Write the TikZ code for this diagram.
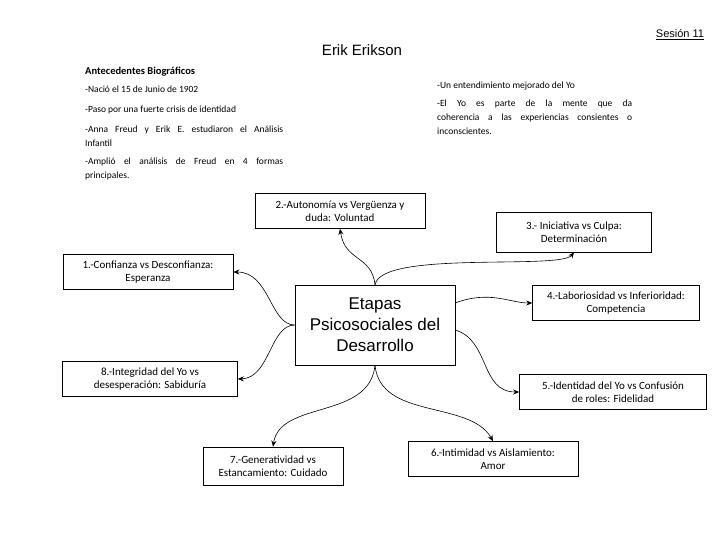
\documentclass[tikz,border=0pt]{standalone}
\usepackage{fontspec}
\setmainfont{Carlito}
\newfontfamily\arialf{Liberation Sans}
\usetikzlibrary{arrows.meta}
\begin{document}
\begin{tikzpicture}[x=1pt,y=-1pt,
 box/.style={draw,line width=0.6pt,align=center,font=\fontsize{11}{13}\selectfont,inner sep=0pt},
 conn/.style={line width=0.6pt,-{Stealth[length=6pt,width=5pt]}}]
\useasboundingbox[fill=white] (0,0) rectangle (728,546);
\node[font=\arialf\fontsize{11}{13}\selectfont] (ses) at (680,35) {\underline{Sesión 11}};
\node[font=\arialf\fontsize{15}{18}\selectfont] (tit) at (362,50) {Erik Erikson};
\node[box,minimum width=160,minimum height=80,font=\arialf\fontsize{17}{21}\selectfont] (c) at (375,325) {Etapas\\Psicosociales del\\Desarrollo};
\node[box,minimum width=170,minimum height=35] (b2) at (340,211) {2.-Autonomía vs Vergüenza y\\duda: Voluntad};
\node[box,minimum width=155,minimum height=40] (b3) at (574,232) {3.- Iniciativa vs Culpa:\\Determinación};
\node[box,minimum width=170,minimum height=35] (b1) at (148,272) {1.-Confianza vs Desconfianza:\\Esperanza};
\node[box,minimum width=167,minimum height=35] (b4) at (616,303) {4.-Laboriosidad vs Inferioridad:\\Competencia};
\node[box,minimum width=175,minimum height=35] (b8) at (150,379) {8.-Integridad del Yo vs\\desesperación: Sabiduría};
\node[box,minimum width=187,minimum height=35] (b5) at (613,392) {5.-Identidad del Yo vs Confusión\\de roles: Fidelidad};
\node[box,minimum width=170,minimum height=35] (b6) at (493,459) {6.-Intimidad vs Aislamiento:\\Amor};
\node[box,minimum width=140,minimum height=38] (b7) at (273,466) {7.-Generatividad vs\\Estancamiento: Cuidado};
\node[anchor=north west,text width=198,align=justify,font=\fontsize{9.5}{14}\selectfont,inner sep=0pt] (left) at (85,67)
 {\textbf{\fontsize{10.5}{12}\selectfont Antecedentes Biográficos}\\[4pt]
 -Nació el 15 de Junio de 1902\\[6pt]
 -Paso por una fuerte crisis de identidad\\[6pt]
 -Anna Freud y Erik E. estudiaron el Análisis\linebreak Infantil\\[4pt]
 -Amplió el análisis de Freud en 4 formas\linebreak principales.};
\node[anchor=north west,text width=195,align=justify,font=\fontsize{9.5}{14}\selectfont,inner sep=0pt] (right) at (437,82)
 {-Un entendimiento mejorado del Yo\\[4pt]
 -El Yo es parte de la mente que da\linebreak coherencia a las experiencias consientes o\linebreak inconscientes.};
\draw[conn] (375,285) .. controls (372,255) and (345,262) .. (b2.south);
\draw[conn] (375,285) .. controls (380,250) and (560,270) .. (b3.south);
\draw[conn] (c.west) .. controls (270,325) and (270,272) .. (b1.east);
\draw[conn] (455,303) .. controls (490,290) and (510,303) .. (b4.west);
\draw[conn] (c.west) .. controls (270,325) and (270,378) .. (b8.east);
\draw[conn] (455,330) .. controls (490,340) and (480,392) .. (b5.west);
\draw[conn] (375,365) .. controls (380,420) and (470,400) .. (b6.north);
\draw[conn] (375,365) .. controls (370,420) and (280,400) .. (b7.north);
\end{tikzpicture}
\end{document}
